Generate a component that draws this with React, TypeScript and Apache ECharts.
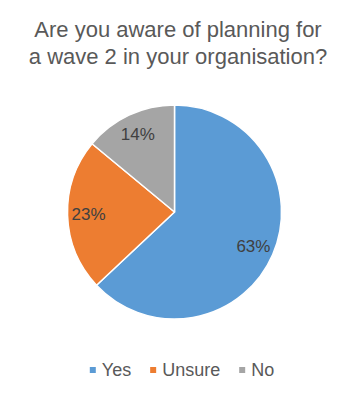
import React, { useEffect, useRef } from "react";
import * as echarts from "echarts";

const titleLines = ["Are you aware of planning for", "a wave 2 in your organisation?"];
const categories = ["Yes", "Unsure", "No"];
const values = [63, 23, 14];
const colors = ["#5B9BD5", "#ED7D31", "#A5A5A5"];

export default function App() {
  const ref = useRef<HTMLDivElement>(null);
  useEffect(() => {
    if (!ref.current) return;
    const chart = echarts.init(ref.current, null, { renderer: "svg" });
    const data = categories.map((name, i) => ({
      name,
      value: values[i],
      itemStyle: { color: colors[i] },
    }));
    chart.setOption({
      animation: false,
      backgroundColor: "#ffffff",
      title: {
        text: titleLines.join("\n"),
        left: 173,
        top: 11,
        textAlign: "center",
        textStyle: {
          fontFamily: "Liberation Sans",
          fontSize: 22,
          fontWeight: "normal",
          color: "#595959",
          lineHeight: 27,
        },
      },
      legend: {
        data: categories,
        top: 356,
        left: "center",
        icon: "rect",
        itemWidth: 8,
        itemHeight: 8,
        itemGap: 17,
        textStyle: { fontFamily: "Liberation Sans", fontSize: 18, color: "#595959" },
      },
      series: [
        {
          type: "pie",
          center: [174.5, 212],
          radius: [0, 107],
          startAngle: 90,
          clockwise: true,
          silent: true,
          label: { show: false },
          labelLine: { show: false },
          itemStyle: { borderColor: "#ffffff", borderWidth: 1.5 },
          data,
        },
        {
          type: "pie",
          center: [174.5, 212],
          radius: [60, 106],
          startAngle: 90,
          clockwise: true,
          silent: true,
          legendHoverLink: false,
          itemStyle: { color: "rgba(0,0,0,0)", borderWidth: 0 },
          label: {
            show: true,
            position: "inside",
            formatter: "{c}%",
            fontFamily: "Liberation Sans",
            fontSize: 17,
            color: "#404040",
          },
          labelLine: { show: false },
          data: categories.map((name, i) => ({ name, value: values[i] })),
        },
      ],
    });
    return () => chart.dispose();
  }, []);
  return (
    <div
      ref={ref}
      style={{ position: "fixed", left: 0, top: 0, width: 362, height: 401 }}
    />
  );
}
